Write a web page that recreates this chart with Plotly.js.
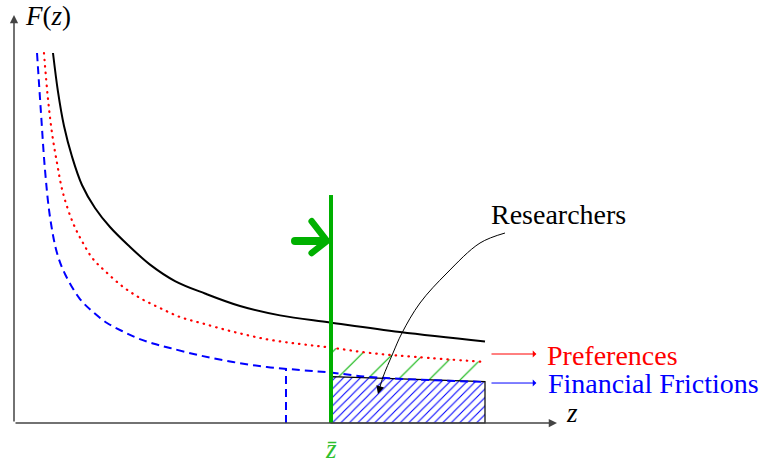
<!DOCTYPE html>
<html><head><meta charset="utf-8">
<script src="https://cdn.plot.ly/plotly-3.0.1.min.js"></script>
<style>html,body{margin:0;padding:0;background:#fff}</style>
</head><body><div id="chart" style="width:763px;height:466px"></div>
<script>
// Baseline curve (solid black)
const baseX = [0.718, 0.810, 0.921, 1.068, 1.252, 1.492, 1.768, 2.099, 2.505, 2.965, 3.517, 4.162, 4.899, 5.820, 7.109, 8.674];
const baseY = [7.255, 6.498, 5.824, 5.225, 4.667, 4.216, 3.843, 3.490, 3.106, 2.784, 2.539, 2.294, 2.110, 1.971, 1.784, 1.598];
// Preferences curve (red dotted)
const prefX = [0.552, 0.626, 0.700, 0.792, 0.902, 1.087, 1.271, 1.455, 1.676, 1.989, 2.320, 2.689, 3.057, 3.462, 4.033, 4.659, 5.267, 5.820, 6.556, 7.422, 8.674];
const prefY = [7.255, 6.353, 5.686, 5.098, 4.510, 3.922, 3.529, 3.216, 2.980, 2.686, 2.451, 2.255, 2.078, 1.955, 1.790, 1.641, 1.549, 1.480, 1.373, 1.294, 1.196];
// Financial frictions curve (blue dashed)
const finX = [0.424, 0.497, 0.571, 0.663, 0.792, 0.939, 1.215, 1.455, 1.713, 1.989, 2.265, 2.560, 2.873, 3.425, 4.033, 4.659, 5.267, 5.820, 6.556, 8.674];
const finY = [7.255, 6.078, 4.961, 4.039, 3.333, 2.922, 2.431, 2.176, 1.961, 1.804, 1.667, 1.559, 1.471, 1.324, 1.196, 1.098, 1.039, 0.990, 0.902, 0.804];
// Threshold and regions
const zBar = 5.838;
const zBarTop = 4.47;
const zFin = 5.009;
const zFinTop = 1.07;
const zEnd = 8.674;
const boxTopX = [5.838, 8.674];
const boxTopY = [0.91, 0.81];
const prefRegionX = [5.838, 6.556, 7.422, 8.674];
const prefRegionY = [1.48, 1.373, 1.294, 1.196];
// Researchers pointer path
const resX = [9.042, 8.582, 7.974, 7.477, 7.145, 6.980, 6.796, 6.740];
const resY = [3.725, 3.529, 2.941, 2.353, 1.765, 1.373, 0.902, 0.706];
const resTip = [6.703, 0.569];
// Green shift arrow
const shiftShaftX = [5.175, 5.672];
const shiftY = 3.569;
const chevronX = [5.482, 5.764, 5.482];
const chevronY = [3.955, 3.569, 3.333];

const GREEN = '#00b000';
const FONT = 'Liberation Serif, serif';

const traces = [];
traces.push({
  x: prefRegionX.concat(boxTopX.slice().reverse()),
  y: prefRegionY.concat(boxTopY.slice().reverse()),
  mode: 'lines', fill: 'toself', line: {width: 0, color: 'rgba(0,0,0,0)'},
  fillcolor: 'rgba(0,0,0,0)',
  fillpattern: {shape: '/', fgcolor: '#00b000', bgcolor: 'rgba(0,0,0,0)', size: 22, solidity: 0.05, fillmode: 'replace'},
  hoverinfo: 'skip'
});
traces.push({
  x: [boxTopX[0], boxTopX[1], zEnd, zBar, boxTopX[0]],
  y: [boxTopY[0], boxTopY[1], 0, 0, boxTopY[0]],
  mode: 'lines', fill: 'toself', line: {width: 1.2, color: '#000'},
  fillcolor: 'rgba(0,0,0,0)',
  fillpattern: {shape: '/', fgcolor: '#0000ff', bgcolor: 'rgba(0,0,0,0)', size: 6, solidity: 0.18, fillmode: 'replace'},
  hoverinfo: 'skip'
});
traces.push({x: baseX, y: baseY, mode: 'lines', line: {color: '#000', width: 2, shape: 'spline', smoothing: 1}});
traces.push({x: prefX, y: prefY, mode: 'lines', line: {color: '#ff0000', width: 2.2, dash: '2px,4.5px', shape: 'spline', smoothing: 1}});
traces.push({x: finX, y: finY, mode: 'lines', line: {color: '#0000ff', width: 2, dash: '8px,5px', shape: 'spline', smoothing: 1}});
traces.push({x: [zFin, zFin], y: [0, zFinTop], mode: 'lines', line: {color: '#0000ff', width: 2, dash: '8px,5px'}});
traces.push({x: [zBar, zBar], y: [0, zBarTop], mode: 'lines', line: {color: GREEN, width: 4}});
traces.push({x: shiftShaftX, y: [shiftY, shiftY], mode: 'lines', line: {color: GREEN, width: 8}});
traces.push({x: chevronX, y: chevronY, mode: 'lines', line: {color: GREEN, width: 6.5}});
traces.push({x: resX, y: resY, mode: 'lines', line: {color: '#000', width: 1, shape: 'spline'}});

const pxX = 54.3, pxY = 51;
const layout = {
  width: 763, height: 466,
  margin: {l: 0, r: 0, t: 0, b: 0},
  paper_bgcolor: '#fff', plot_bgcolor: '#fff',
  showlegend: false,
  font: {family: FONT},
  xaxis: {range: [-14 / pxX, 749 / pxX], visible: false, fixedrange: true},
  yaxis: {range: [-43 / pxY, 423 / pxY], visible: false, fixedrange: true},
  annotations: [
    {x: 10.0, y: 0, ax: 0, ay: 0, xref: 'x', yref: 'y', axref: 'x', ayref: 'y', text: '', showarrow: true, arrowhead: 2, arrowsize: 1.1, arrowwidth: 1.5, arrowcolor: '#444'},
    {x: 0, y: 8.0, ax: 0, ay: 0, xref: 'x', yref: 'y', axref: 'x', ayref: 'y', text: '', showarrow: true, arrowhead: 2, arrowsize: 1.1, arrowwidth: 1.5, arrowcolor: '#444'},
    {x: 0.62, y: 7.98, xref: 'x', yref: 'y', text: '<i>F</i>(<i>z</i>)', showarrow: false, font: {family: FONT, size: 27, color: '#000'}},
    {x: 10.28, y: 0.2, xref: 'x', yref: 'y', text: '<i>z</i>', showarrow: false, font: {family: FONT, size: 27, color: '#000'}},
    {x: zBar, y: -0.5, xref: 'x', yref: 'y', text: '<i>z\u0304</i>', showarrow: false, font: {family: FONT, size: 27, color: '#2fbf2f'}},
    {x: 10.02, y: 4.08, xref: 'x', yref: 'y', text: 'Researchers', showarrow: false, font: {family: FONT, size: 28, color: '#000'}},
    {x: resTip[0], y: resTip[1], ax: resX[resX.length - 1], ay: resY[resY.length - 1], xref: 'x', yref: 'y', axref: 'x', ayref: 'y', text: '', showarrow: true, arrowhead: 2, arrowsize: 1.6, arrowwidth: 1, arrowcolor: '#000'},
    {x: 9.62, y: 1.353, ax: 8.766, ay: 1.353, xref: 'x', yref: 'y', axref: 'x', ayref: 'y', text: '', showarrow: true, arrowhead: 1, arrowsize: 1.2, arrowwidth: 1, arrowcolor: '#ff0000'},
    {x: 9.62, y: 0.784, ax: 8.766, ay: 0.784, xref: 'x', yref: 'y', axref: 'x', ayref: 'y', text: '', showarrow: true, arrowhead: 1, arrowsize: 1.2, arrowwidth: 1, arrowcolor: '#0000ff'},
    {x: 9.78, y: 1.333, xref: 'x', yref: 'y', xanchor: 'left', text: 'Preferences', showarrow: false, font: {family: FONT, size: 28, color: '#ff0000'}},
    {x: 9.8, y: 0.765, xref: 'x', yref: 'y', xanchor: 'left', text: 'Financial Frictions', showarrow: false, font: {family: FONT, size: 28, color: '#0000ff'}}
  ]
};

Plotly.newPlot('chart', traces, layout, {displayModeBar: false, staticPlot: true}).then(function (gd) {
  const tr = gd.querySelectorAll('.scatterlayer .trace');
  [7, 8].forEach(function (i) {
    if (tr[i]) tr[i].querySelectorAll('path.js-line').forEach(function (p) {
      p.style.strokeLinecap = 'round'; p.style.strokeLinejoin = 'round';
    });
  });
  if (tr[3]) tr[3].querySelectorAll('path.js-line').forEach(function (p) { p.style.strokeLinecap = 'round'; p.style.strokeDasharray = '0.5px,6px'; });
});
</script>
</body></html>
